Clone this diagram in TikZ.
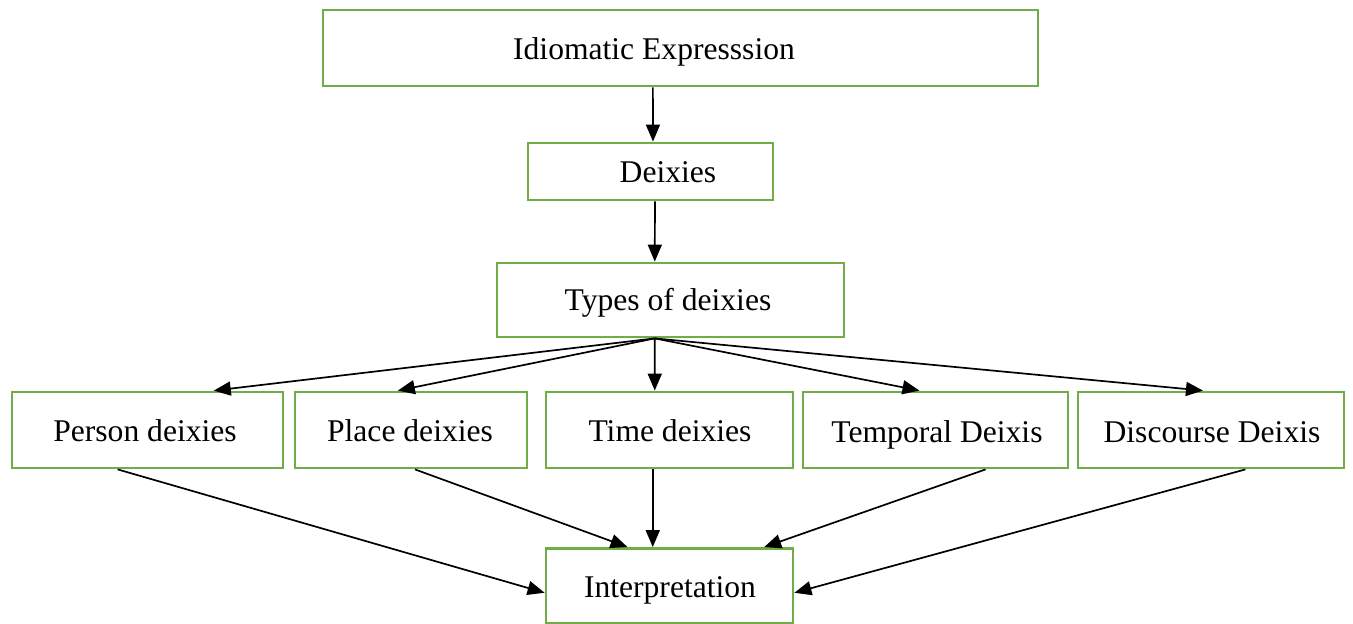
\documentclass[tikz,border=0pt]{standalone}
\usepackage{fontspec}
\setmainfont{Liberation Serif}
\usetikzlibrary{arrows.meta,calc}
\definecolor{boxgreen}{RGB}{112,173,71}
\begin{document}
\begin{tikzpicture}[x=0.5pt,y=-0.5pt,
  box/.style={draw=boxgreen,line width=1.4pt,fill=white,inner sep=0pt,rectangle},
  lbl/.style={inner sep=0pt,anchor=base,font=\fontsize{15.8}{18}\selectfont},
  link/.style={draw=black,line width=0.85pt,-{Triangle[length=8.5pt,width=7pt]}}]
\useasboundingbox (0,0) rectangle (1353,624);
\fill[white] (0,0) rectangle (1353,624);

% boxes
\node[box,minimum width=357.5pt,minimum height=38pt] (idiom) at (680.5,48) {};
\node[box,minimum width=122.5pt,minimum height=28.5pt] (deix) at (650.5,171.5) {};
\node[box,minimum width=173.5pt,minimum height=37pt] (types) at (670.5,300) {};
\node[box,minimum width=135.5pt,minimum height=38pt] (person) at (147.5,430) {};
\node[box,minimum width=116pt,minimum height=38pt] (place) at (411,430) {};
\node[box,minimum width=123.5pt,minimum height=38pt] (time) at (669.5,430) {};
\node[box,minimum width=132.5pt,minimum height=38pt] (temporal) at (935.5,430) {};
\node[box,minimum width=133pt,minimum height=38pt] (discourse) at (1211,430) {};
\node[box,minimum width=123.5pt,minimum height=37.5pt] (interp) at (669.5,586) {};

% labels (placed on their baselines)
\node[lbl] (tIdiom) at (654,60) {Idiomatic Expresssion};
\node[lbl] (tDeix) at (668,183) {Deixies};
\node[lbl] (tTypes) at (668,311) {Types of deixies};
\node[lbl] (tPerson) at (145,442) {Person deixies};
\node[lbl] (tPlace) at (410,442) {Place deixies};
\node[lbl] (tTime) at (670,442) {Time deixies};
\node[lbl] (tTemporal) at (937,443) {Temporal Deixis};
\node[lbl] (tDiscourse) at (1212,443) {Discourse Deixis};
\node[lbl] (tInterp) at (670,597) {Interpretation};

% vertical chain
\draw[link] ($(idiom.south west)!0.4615!(idiom.south east)$) -- ($(deix.north west)!0.51!(deix.north east)$);
\draw[link] ($(deix.south west)!0.518!(deix.south east)$) -- ($(types.north west)!0.455!(types.north east)$);

% fan out to the five kinds
\coordinate (fan) at ($(types.south west)!0.455!(types.south east)$);
\draw[link] (fan) -- ($(person.north west)!0.742!(person.north east)$);
\draw[link] (fan) -- ($(place.north west)!0.444!(place.north east)$);
\draw[link] (fan) -- ($(time.north west)!0.441!(time.north east)$);
\draw[link] (fan) -- ($(temporal.north west)!0.44!(temporal.north east)$);
\draw[link] (fan) -- ($(discourse.north west)!0.47!(discourse.north east)$);

% converge on interpretation
\draw[link] ($(person.south west)!0.391!(person.south east)$) -- ($(interp.north west)!0.587!(interp.south west)$);
\draw[link] ($(place.south west)!0.517!(place.south east)$) -- ($(interp.north west)!0.332!(interp.north east)$);
\draw[link] ($(time.south west)!0.433!(time.south east)$) -- ($(interp.north west)!0.433!(interp.north east)$);
\draw[link] ($(temporal.south west)!0.687!(temporal.south east)$) -- ($(interp.north west)!0.879!(interp.north east)$);
\draw[link] ($(discourse.south west)!0.628!(discourse.south east)$) -- ($(interp.north east)!0.587!(interp.south east)$);
\end{tikzpicture}
\end{document}
